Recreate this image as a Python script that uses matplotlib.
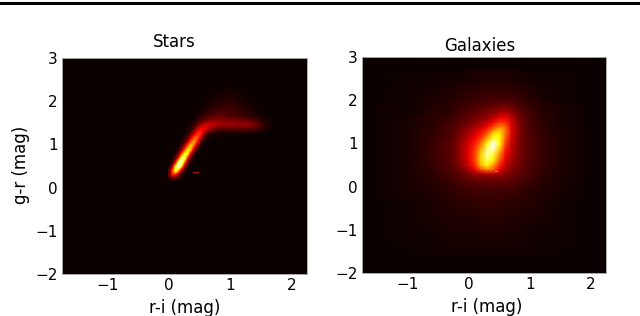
import numpy as np
import matplotlib
matplotlib.use('Agg')
import matplotlib.pyplot as plt
from matplotlib.lines import Line2D

# r-i columns run 0.00 .. 1.75 in 0.05 steps, g-r rows run 0.2 .. 2.4 in 0.1 steps
stars_extent = [-0.025, 1.775, 0.15, 2.45]
stars = [
    [ 4, 6, 5, 2, 1, 0, 0, 0, 0, 0, 0, 0, 0, 0, 0, 0, 0, 0, 0, 0, 0, 0, 0, 0, 0, 0, 0, 0, 0, 0, 0, 0, 0, 0, 0, 0],
    [16,42,38,16, 5, 1, 0, 0, 0, 0, 0, 0, 0, 0, 0, 0, 0, 0, 0, 0, 0, 0, 0, 0, 0, 0, 0, 0, 0, 0, 0, 0, 0, 0, 0, 0],
    [10,50,84,58,20, 5, 1, 0, 0, 0, 0, 0, 0, 0, 0, 0, 0, 0, 0, 0, 0, 0, 0, 0, 0, 0, 0, 0, 0, 0, 0, 0, 0, 0, 0, 0],
    [ 4,28,80,100,66,18, 4, 1, 0, 0, 0, 0, 0, 0, 0, 0, 0, 0, 0, 0, 0, 0, 0, 0, 0, 0, 0, 0, 0, 0, 0, 0, 0, 0, 0, 0],
    [ 1, 8,36,90,98,50,12, 3, 0, 0, 0, 0, 0, 0, 0, 0, 0, 0, 0, 0, 0, 0, 0, 0, 0, 0, 0, 0, 0, 0, 0, 0, 0, 0, 0, 0],
    [ 0, 2,12,44,88,84,34, 8, 2, 0, 0, 0, 0, 0, 0, 0, 0, 0, 0, 0, 0, 0, 0, 0, 0, 0, 0, 0, 0, 0, 0, 0, 0, 0, 0, 0],
    [ 0, 1, 4,18,50,82,72,26, 6, 1, 0, 0, 0, 0, 0, 0, 0, 0, 0, 0, 0, 0, 0, 0, 0, 0, 0, 0, 0, 0, 0, 0, 0, 0, 0, 0],
    [ 0, 0, 1, 6,22,52,76,62,22, 6, 1, 0, 0, 0, 0, 0, 0, 0, 0, 0, 0, 0, 0, 0, 0, 0, 0, 0, 0, 0, 0, 0, 0, 0, 0, 0],
    [ 0, 0, 0, 2, 9,25,54,70,50,20, 5, 1, 0, 0, 0, 0, 0, 0, 0, 0, 0, 0, 0, 0, 0, 0, 0, 0, 0, 0, 0, 0, 0, 0, 0, 0],
    [ 0, 0, 0, 1, 3,10,26,50,62,42,16, 4, 1, 0, 0, 0, 0, 0, 0, 0, 0, 0, 0, 0, 0, 0, 0, 0, 0, 0, 0, 0, 0, 0, 0, 0],
    [ 0, 0, 0, 0, 1, 4,12,28,48,52,34,13, 4, 1, 1, 0, 0, 0, 0, 0, 0, 0, 0, 0, 0, 0, 0, 0, 0, 0, 0, 0, 0, 0, 0, 0],
    [ 0, 0, 0, 0, 0, 2, 5,14,28,42,44,29,13, 6, 4, 3, 3, 3, 2, 2, 2, 2, 2, 2, 2, 2, 2, 2, 2, 1, 1, 0, 0, 0, 0, 0],
    [ 0, 0, 0, 0, 0, 1, 2, 5,13,26,37,38,31,22,17,14,12,11,11,11,11,11,11,11,12,12,11,10, 9, 7, 5, 3, 2, 1, 0, 0],
    [ 0, 0, 0, 0, 0, 0, 1, 3, 6,12,20,27,30,30,28,26,24,23,22,22,22,22,21,21,21,21,20,18,16,13, 9, 5, 3, 2, 1, 0],
    [ 0, 0, 0, 0, 0, 0, 0, 1, 3, 6,10,13,16,18,20,20,20,19,18,18,17,17,16,16,15,15,13,11,10, 7, 4, 3, 2, 1, 0, 0],
    [ 0, 0, 0, 0, 0, 0, 0, 0, 1, 3, 5, 7, 9,11,12,13,13,13,12,12,11,10, 9, 9, 8, 7, 6, 5, 4, 3, 2, 1, 1, 0, 0, 0],
    [ 0, 0, 0, 0, 0, 0, 0, 0, 1, 1, 3, 4, 5, 7, 8, 9, 9,10,10, 9, 9, 8, 7, 6, 5, 5, 4, 3, 2, 2, 1, 1, 0, 0, 0, 0],
    [ 0, 0, 0, 0, 0, 0, 0, 0, 0, 1, 1, 2, 3, 4, 5, 6, 7, 7, 8, 8, 7, 6, 5, 5, 4, 3, 3, 2, 2, 1, 1, 0, 0, 0, 0, 0],
    [ 0, 0, 0, 0, 0, 0, 0, 0, 0, 0, 1, 1, 2, 2, 3, 4, 5, 5, 6, 6, 6, 5, 4, 4, 3, 2, 2, 2, 1, 1, 0, 0, 0, 0, 0, 0],
    [ 0, 0, 0, 0, 0, 0, 0, 0, 0, 0, 0, 1, 1, 2, 2, 3, 3, 4, 4, 4, 4, 4, 3, 3, 2, 2, 1, 1, 1, 0, 0, 0, 0, 0, 0, 0],
    [ 0, 0, 0, 0, 0, 0, 0, 0, 0, 0, 0, 0, 1, 1, 1, 2, 2, 2, 3, 3, 3, 3, 2, 2, 2, 1, 1, 1, 0, 0, 0, 0, 0, 0, 0, 0],
    [ 0, 0, 0, 0, 0, 0, 0, 0, 0, 0, 0, 0, 0, 1, 1, 1, 1, 2, 2, 2, 2, 2, 1, 1, 1, 1, 1, 0, 0, 0, 0, 0, 0, 0, 0, 0],
    [ 0, 0, 0, 0, 0, 0, 0, 0, 0, 0, 0, 0, 0, 0, 0, 1, 1, 1, 1, 1, 1, 1, 1, 1, 1, 0, 0, 0, 0, 0, 0, 0, 0, 0, 0, 0],
    [ 0, 0, 0, 0, 0, 0, 0, 0, 0, 0, 0, 0, 0, 0, 0, 0, 0, 0, 0, 0, 0, 0, 0, 0, 0, 0, 0, 0, 0, 0, 0, 0, 0, 0, 0, 0],
]

# galaxy grid is finer around the core and coarse in the outer halo
galaxies_x = [-1.5, -1.0, -0.6, -0.3, -0.2, -0.1, 0.0, 0.1, 0.2, 0.3, 0.4, 0.5, 0.6, 0.7, 0.8, 0.9, 1.0, 1.2, 1.5, 1.9]
galaxies_y = [-1.6, -1.2, -0.8, -0.4, -0.2, 0.0, 0.1, 0.2, 0.3, 0.4, 0.5, 0.6, 0.7, 0.8, 0.9, 1.0,
              1.1, 1.2, 1.3, 1.4, 1.5, 1.6, 1.7, 1.8, 1.9, 2.0, 2.2, 2.4, 2.7]
galaxies = [
    [0, 0, 1,  1,  1,  1,  1,  1,  1,  1,  1,  1,  1,  1,  1,  1,  1, 1, 0, 0],
    [0, 1, 1,  2,  2,  2,  2,  2,  2,  2,  2,  2,  2,  2,  2,  2,  1, 1, 1, 0],
    [0, 1, 2,  3,  3,  3,  3,  3,  4,  4,  4,  4,  3,  3,  3,  3,  2, 2, 1, 0],
    [0, 1, 3,  4,  5,  5,  5,  6,  6,  6,  6,  6,  5,  5,  5,  4,  4, 3, 1, 0],
    [1, 2, 3,  5,  6,  6,  7,  7,  7,  7,  7,  7,  7,  6,  6,  5,  5, 3, 2, 0],
    [1, 2, 4,  6,  7,  8,  9, 10, 10, 10, 10, 10,  9,  9,  8,  7,  6, 4, 2, 1],
    [1, 2, 4,  7,  8, 10, 11, 12, 12, 13, 13, 12, 12, 11, 10,  8,  7, 5, 2, 1],
    [1, 2, 5,  8, 10, 11, 13, 15, 16, 16, 16, 16, 15, 13, 11, 10,  8, 5, 2, 1],
    [1, 2, 5,  9, 11, 14, 17, 21, 24, 25, 25, 23, 19, 16, 13, 11,  9, 6, 3, 1],
    [1, 2, 6, 10, 13, 17, 24, 34, 48, 56, 52, 36, 24, 18, 15, 12, 10, 6, 3, 1],
    [1, 2, 6, 11, 15, 21, 30, 42, 64, 75, 60, 42, 28, 20, 16, 13, 10, 6, 3, 1],
    [1, 2, 6, 12, 16, 23, 32, 45, 68, 82, 72, 50, 32, 22, 17, 13, 11, 7, 3, 1],
    [1, 2, 7, 12, 17, 24, 33, 46, 68, 88, 78, 56, 35, 24, 18, 14, 11, 7, 3, 1],
    [1, 2, 7, 12, 17, 24, 33, 45, 66, 90, 85, 62, 38, 26, 18, 14, 11, 7, 3, 1],
    [1, 2, 7, 12, 17, 24, 32, 43, 60, 84, 98, 70, 42, 27, 19, 14, 11, 7, 3, 1],
    [1, 2, 7, 12, 16, 23, 31, 40, 54, 74, 100, 78, 46, 28, 19, 14, 11, 7, 3, 1],
    [1, 2, 6, 11, 15, 21, 28, 36, 46, 64, 82, 76, 50, 30, 20, 14, 11, 7, 3, 1],
    [1, 2, 6, 10, 14, 19, 25, 31, 40, 52, 72, 74, 52, 31, 20, 14, 11, 6, 3, 1],
    [1, 2, 6, 10, 13, 17, 22, 27, 34, 44, 58, 68, 54, 32, 20, 14, 10, 6, 3, 1],
    [1, 2, 5,  9, 11, 15, 18, 22, 27, 34, 44, 55, 50, 32, 20, 13, 10, 6, 2, 1],
    [1, 2, 5,  8, 10, 13, 15, 18, 22, 27, 34, 42, 42, 30, 19, 13,  9, 5, 2, 1],
    [1, 2, 5,  7,  9, 11, 13, 15, 18, 21, 26, 32, 34, 26, 17, 12,  9, 5, 2, 1],
    [1, 1, 4,  6,  8,  9, 11, 13, 15, 17, 20, 24, 26, 21, 15, 11,  8, 5, 2, 1],
    [1, 1, 4,  5,  7,  8,  9, 11, 12, 14, 16, 18, 19, 16, 12,  9,  7, 4, 2, 1],
    [1, 1, 3,  5,  6,  7,  8,  9, 10, 11, 12, 13, 14, 12, 10,  8,  6, 4, 2, 1],
    [0, 1, 3,  4,  5,  6,  7,  8,  8,  9, 10, 10, 10,  9,  8,  6,  5, 3, 1, 0],
    [0, 1, 2,  3,  4,  4,  5,  5,  6,  6,  6,  6,  6,  6,  5,  5,  4, 2, 1, 0],
    [0, 1, 1,  2,  2,  3,  3,  3,  4,  4,  4,  4,  4,  4,  3,  3,  2, 1, 1, 0],
    [0, 0, 1,  1,  1,  1,  2,  2,  2,  2,  2,  2,  2,  2,  1,  1,  1, 1, 0, 0],
]

# small horizontal artefact seen near the blue end in both panels
stars_speck_x = [0.39, 0.47]
stars_speck_y = [0.36, 0.36]
galaxies_speck_x = [0.43, 0.47]
galaxies_speck_y = [0.36, 0.36]

xticks = [-1, 0, 1, 2]
yticks = [-2, -1, 0, 1, 2, 3]
xlim = (-1.75, 2.25)
ylim = (-2, 3)

W, H = 640, 316
plt.rcParams['font.size'] = 11
fig = plt.figure(figsize=(W / 100, H / 100), dpi=100)


def panel(box):
    left, top, right, bottom = box
    ax = fig.add_axes([left / W, 1 - bottom / H, (right - left) / W, (bottom - top) / H])
    ax.set_facecolor(plt.cm.hot(0.0))
    ax.set_xlim(xlim)
    ax.set_ylim(ylim)
    ax.set_xticks(xticks)
    ax.set_yticks(yticks)
    ax.tick_params(length=0, pad=3)
    for s in ax.spines.values():
        s.set_color('#a8a8a8')
        s.set_linewidth(0.7)
    return ax


ax1 = panel((62, 58, 307, 274))
ax1.imshow(stars, origin='lower', extent=stars_extent, cmap='hot', vmin=0, vmax=100,
           interpolation='bilinear', aspect='auto')
ax1.plot(stars_speck_x, stars_speck_y, color='#c01000', lw=0.7)
ax1.set_xlim(xlim)
ax1.set_ylim(ylim)

ax2 = panel((362, 57, 606, 273))
ax2.pcolormesh(galaxies_x, galaxies_y, galaxies, cmap='hot', vmin=0, vmax=100, shading='gouraud')
ax2.plot(galaxies_speck_x, galaxies_speck_y, color='#ff9020', lw=0.7)
ax2.set_xlim(xlim)
ax2.set_ylim(ylim)

fig.text(174 / W, 1 - 42 / H, 'Stars', ha='center', va='center', fontsize=12)
fig.text(480 / W, 1 - 46 / H, 'Galaxies', ha='center', va='center', fontsize=12)
fig.text(185 / W, 1 - 308 / H, 'r-i (mag)', ha='center', va='center', fontsize=12)
fig.text(487 / W, 1 - 307 / H, 'r-i (mag)', ha='center', va='center', fontsize=12)
fig.text(21 / W, 1 - 165 / H, 'g-r (mag)', ha='center', va='center', rotation=90, fontsize=12)

# black rule along the top of the page
fig.add_artist(Line2D([0, 1], [1 - 3.3 / H, 1 - 3.3 / H], color='black', lw=2.2))

fig.savefig('out.png', dpi=100)
